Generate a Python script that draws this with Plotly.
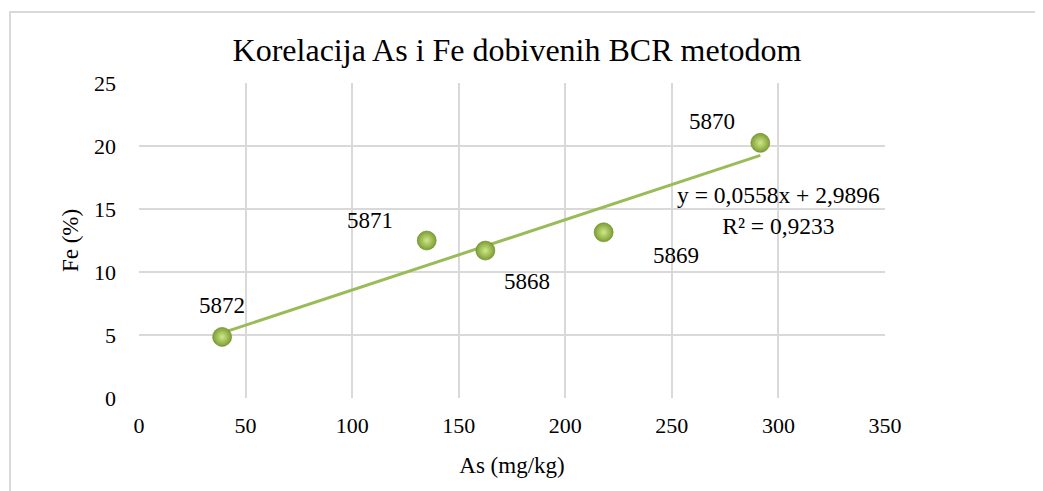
import plotly.graph_objects as go

# Data
sample_ids = ["5872", "5871", "5868", "5869", "5870"]
as_mgkg = [39, 135, 162.5, 218, 291.5]
fe_pct = [4.85, 12.5, 11.7, 13.15, 20.25]

# Trendline coefficients (as printed on the chart)
slope = 0.0558
intercept = 2.9896
r_squared = 0.9233

# Label offsets (px) for each sample label
label_dx = [0, -57, 42, 72, -48]
label_dy = [31, 20, -31, -23, 21]

x_ticks = [0, 50, 100, 150, 200, 250, 300, 350]
y_ticks = [0, 5, 10, 15, 20, 25]

FONT = "Liberation Serif, Times New Roman, serif"
GREEN = "#9BBB59"
GRID = "#D9D9D9"

x_line = [min(as_mgkg), max(as_mgkg)]
y_line = [slope * x + intercept for x in x_line]

fig = go.Figure()
fig.add_trace(go.Scatter(
    x=x_line, y=y_line, mode="lines",
    line=dict(color=GREEN, width=3), hoverinfo="skip", showlegend=False))
fig.add_trace(go.Scatter(
    x=as_mgkg, y=fe_pct, mode="markers",
    marker=dict(size=19, color="#7D9E33",
                gradient=dict(type="radial", color="#CFE88A"),
                line=dict(color="#6A8828", width=0.6)),
    showlegend=False))

for sid, x, y, dx, dy in zip(sample_ids, as_mgkg, fe_pct, label_dx, label_dy):
    fig.add_annotation(x=x, y=y, text=sid, showarrow=False,
                       xshift=dx, yshift=dy,
                       font=dict(family=FONT, size=23, color="#000000"))

eq_text = ("y = " + f"{slope:.4f}".replace(".", ",") + "x + "
           + f"{intercept:.4f}".replace(".", ",") + "<br>R² = "
           + f"{r_squared:.4f}".replace(".", ","))
fig.add_annotation(x=300, y=14.9, text=eq_text, showarrow=False,
                   align="center",
                   font=dict(family=FONT, size=23.5, color="#000000"))

# page has an 8px body margin; figure coordinates are page - 8
OFF = 8
W, H = 1043, 491
L, R, T, B = 139 - OFF, 885 - OFF, 83 - OFF, 398 - OFF
fig.add_shape(type="rect", xref="paper", yref="paper",
              x0=(10 - OFF - L) / (R - L), x1=(1060 - L) / (R - L),
              y0=(B - 540) / (B - T), y1=(B - (12 - OFF)) / (B - T),
              line=dict(color=GRID, width=2), fillcolor="rgba(0,0,0,0)",
              layer="below")

fig.update_layout(
    width=W, height=H,
    margin=dict(l=L, r=W - R, t=T, b=H - B),
    paper_bgcolor="white", plot_bgcolor="white",
    font=dict(family=FONT, color="#000000"),
    title=dict(text="Korelacija As i Fe dobivenih BCR metodom",
               x=(517 - OFF - L) / (R - L), xref="paper", xanchor="center",
               y=1 - (50 - OFF) / H, yref="container", yanchor="middle",
               font=dict(family=FONT, size=32, color="#000000")),
    xaxis=dict(range=[0, 350], tickvals=x_ticks, showgrid=True,
               gridcolor=GRID, gridwidth=1.5, zeroline=False,
               showline=False, ticks="", ticklabelstandoff=12,
               tickfont=dict(family=FONT, size=22),
               title=dict(text="As (mg/kg)", standoff=19,
                          font=dict(family=FONT, size=23))),
    yaxis=dict(range=[0, 25], tickvals=y_ticks, showgrid=True,
               gridcolor=GRID, gridwidth=1.5, zeroline=False,
               showline=False, ticks="", ticklabelstandoff=22,
               tickfont=dict(family=FONT, size=22),
               title=dict(text="Fe (%)", standoff=8,
                          font=dict(family=FONT, size=23))),
)

fig.write_html("out.html")
